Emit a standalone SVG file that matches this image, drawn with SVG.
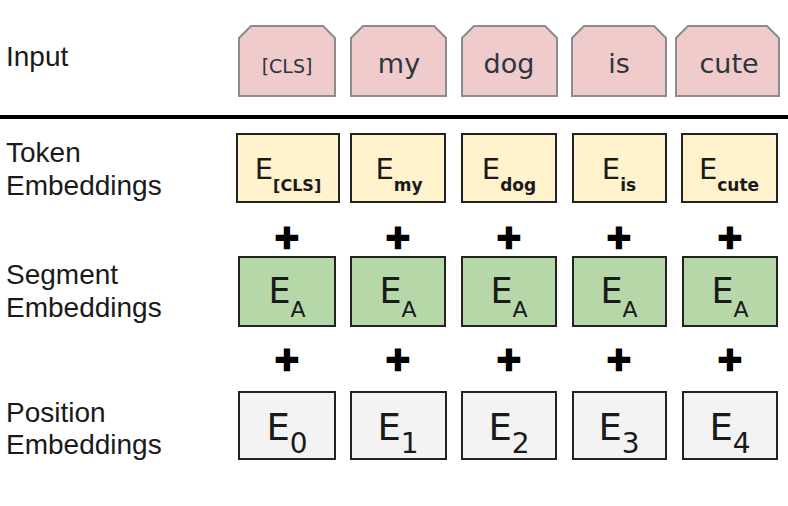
<svg xmlns="http://www.w3.org/2000/svg" width="788" height="506" viewBox="0 0 788 506">
<style>
  .lbl { font-family: "Liberation Sans", Arial, sans-serif; font-size: 28px; fill: #1a1a1a; }
  .inp { fill: #efcbcb; stroke: #8c8c8c; stroke-width: 2; }
  .tok { fill: #fff2cc; stroke: #222; stroke-width: 2; }
  .seg { fill: #b6d7a8; stroke: #222; stroke-width: 2; }
  .pos { fill: #f3f3f3; stroke: #222; stroke-width: 2; }
  .t { font-family: "DejaVu Sans", sans-serif; fill: #2e3440; text-anchor: middle; }
  .e { font-family: "DejaVu Sans", sans-serif; fill: #1a1a1a; text-anchor: middle; }
  .plus { font-family: "DejaVu Sans", sans-serif; font-weight: bold; font-size: 32px; fill: #000; stroke: #000; stroke-width: 2.5; text-anchor: middle; }
</style>
<rect width="788" height="506" fill="#fff"/>
<g id="labels">
  <text class="lbl" x="6" y="66">Input</text>
  <text class="lbl" x="6" y="162">Token</text>
  <text class="lbl" x="6" y="195">Embeddings</text>
  <text class="lbl" x="6" y="284">Segment</text>
  <text class="lbl" x="6" y="317">Embeddings</text>
  <text class="lbl" x="6" y="422">Position</text>
  <text class="lbl" x="6" y="454">Embeddings</text>
</g>
<g id="separator">
  <line x1="0" y1="117" x2="788" y2="117" stroke="#000" stroke-width="4"/>
</g>
<g id="input-row">
  <g id="in-cls"><path class="inp" d="M239,96 V38 L251,26 H323 L335,38 V96 Z"/><text class="t" x="287" y="73" font-size="19">[CLS]</text></g>
  <g id="in-my"><path class="inp" d="M351,96 V38 L363,26 H434 L446,38 V96 Z"/><text class="t" x="399" y="73" font-size="27">my</text></g>
  <g id="in-dog"><path class="inp" d="M462,96 V38 L474,26 H545 L557,38 V96 Z"/><text class="t" x="509" y="73" font-size="27">dog</text></g>
  <g id="in-is"><path class="inp" d="M572,96 V38 L584,26 H654 L666,38 V96 Z"/><text class="t" x="619" y="73" font-size="27">is</text></g>
  <g id="in-cute"><path class="inp" d="M676,96 V38 L688,26 H767 L779,38 V96 Z"/><text class="t" x="729" y="73" font-size="27">cute</text></g>
</g>
<g id="token-row">
  <g id="tok-cls"><rect class="tok" x="237" y="134" width="102" height="68"/><text class="e" x="288" y="179" font-size="29">E<tspan font-size="16" font-weight="bold" dy="12">[CLS]</tspan></text></g>
  <g id="tok-my"><rect class="tok" x="351" y="134" width="94" height="68"/><text class="e" x="399" y="179" font-size="29">E<tspan font-size="17" font-weight="bold" dy="12">my</tspan></text></g>
  <g id="tok-dog"><rect class="tok" x="462" y="134" width="94" height="68"/><text class="e" x="509" y="179" font-size="29">E<tspan font-size="17" font-weight="bold" dy="12">dog</tspan></text></g>
  <g id="tok-is"><rect class="tok" x="573" y="134" width="93" height="68"/><text class="e" x="619" y="179" font-size="29">E<tspan font-size="17" font-weight="bold" dy="12">is</tspan></text></g>
  <g id="tok-cute"><rect class="tok" x="682" y="134" width="95" height="68"/><text class="e" x="729" y="179" font-size="29">E<tspan font-size="17" font-weight="bold" dy="12">cute</tspan></text></g>
</g>
<g id="operators">
  <text class="plus" x="287" y="248">+</text>
  <text class="plus" x="398" y="248">+</text>
  <text class="plus" x="509" y="248">+</text>
  <text class="plus" x="619" y="248">+</text>
  <text class="plus" x="730" y="248">+</text>
  <text class="plus" x="287" y="370">+</text>
  <text class="plus" x="398" y="370">+</text>
  <text class="plus" x="509" y="370">+</text>
  <text class="plus" x="619" y="370">+</text>
  <text class="plus" x="730" y="370">+</text>
</g>
<g id="segment-row">
  <g id="seg-0"><rect class="seg" x="239" y="257" width="96" height="69"/><text class="e" x="287" y="303" font-size="35">E<tspan font-size="22" dy="14">A</tspan></text></g>
  <g id="seg-1"><rect class="seg" x="351" y="257" width="94" height="69"/><text class="e" x="398" y="303" font-size="35">E<tspan font-size="22" dy="14">A</tspan></text></g>
  <g id="seg-2"><rect class="seg" x="462" y="257" width="94" height="69"/><text class="e" x="509" y="303" font-size="35">E<tspan font-size="22" dy="14">A</tspan></text></g>
  <g id="seg-3"><rect class="seg" x="573" y="257" width="93" height="69"/><text class="e" x="619" y="303" font-size="35">E<tspan font-size="22" dy="14">A</tspan></text></g>
  <g id="seg-4"><rect class="seg" x="683" y="257" width="94" height="69"/><text class="e" x="730" y="303" font-size="35">E<tspan font-size="22" dy="14">A</tspan></text></g>
</g>
<g id="position-row">
  <g id="pos-0"><rect class="pos" x="239" y="392" width="96" height="67"/><text class="e" x="287" y="440" font-size="37">E<tspan font-size="28" dy="13">0</tspan></text></g>
  <g id="pos-1"><rect class="pos" x="351" y="392" width="95" height="67"/><text class="e" x="398" y="440" font-size="37">E<tspan font-size="28" dy="13">1</tspan></text></g>
  <g id="pos-2"><rect class="pos" x="462" y="392" width="94" height="67"/><text class="e" x="509" y="440" font-size="37">E<tspan font-size="28" dy="13">2</tspan></text></g>
  <g id="pos-3"><rect class="pos" x="573" y="392" width="93" height="67"/><text class="e" x="619" y="440" font-size="37">E<tspan font-size="28" dy="13">3</tspan></text></g>
  <g id="pos-4"><rect class="pos" x="683" y="392" width="94" height="67"/><text class="e" x="730" y="440" font-size="37">E<tspan font-size="28" dy="13">4</tspan></text></g>
</g>
</svg>
